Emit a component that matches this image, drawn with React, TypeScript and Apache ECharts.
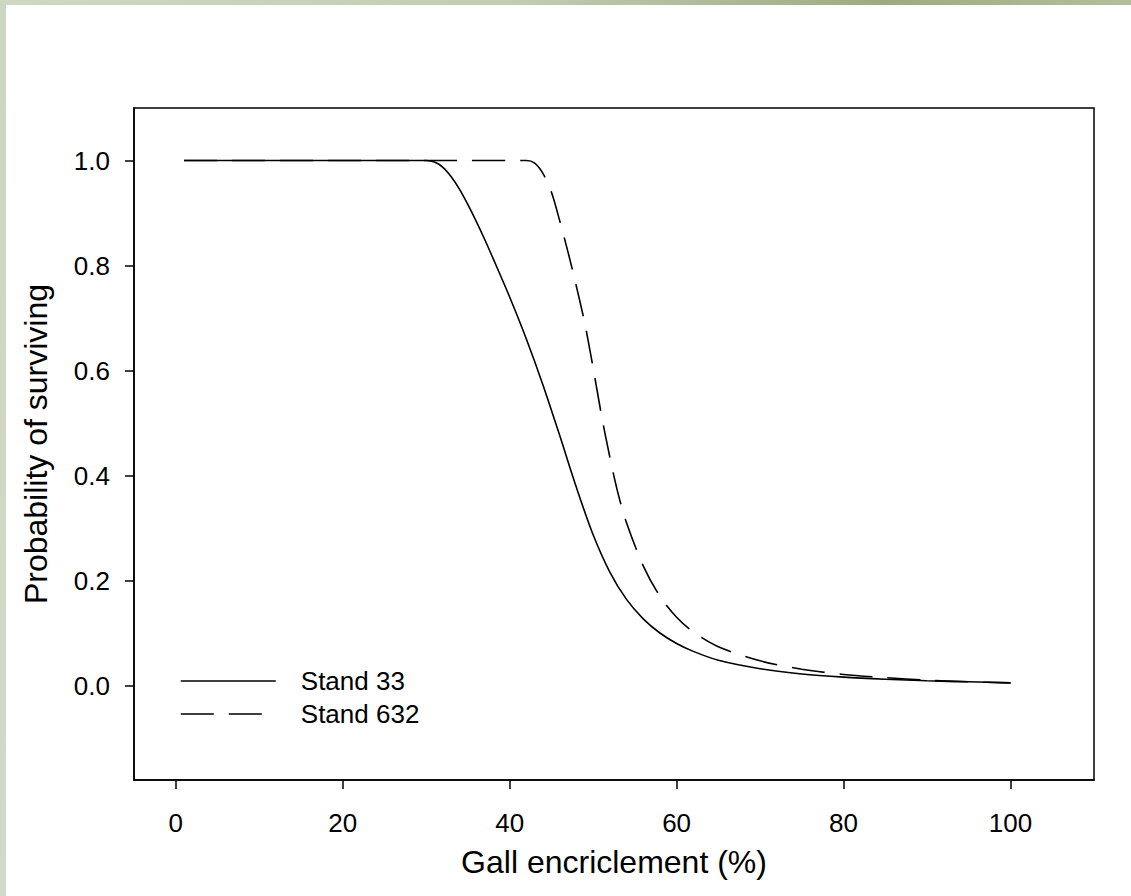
import React, { useEffect, useRef } from "react";
import * as echarts from "echarts";

const stand33X = [1, 5, 10, 15, 20, 25, 30, 31, 32, 33, 34, 35, 36, 37, 38, 40, 42, 44, 46, 48, 50, 52, 54, 56, 58, 60, 62, 65, 70, 75, 80, 85, 90, 95, 100];
const stand33Y = [1, 1, 1, 1, 1, 1, 1, 0.997, 0.987, 0.969, 0.945, 0.916, 0.884, 0.85, 0.814, 0.74, 0.66, 0.572, 0.476, 0.377, 0.287, 0.216, 0.164, 0.127, 0.1, 0.08, 0.065, 0.048, 0.032, 0.022, 0.016, 0.012, 0.009, 0.007, 0.005];

const stand632X = [1, 5, 10, 15, 20, 25, 30, 35, 40, 42, 43, 44, 45, 46, 47, 48, 49, 50, 51, 52, 53, 54, 56, 58, 60, 62, 65, 70, 75, 80, 85, 90, 95, 100];
const stand632Y = [1, 1, 1, 1, 1, 1, 1, 1, 1, 1, 0.995, 0.975, 0.94, 0.885, 0.825, 0.76, 0.69, 0.605, 0.515, 0.435, 0.365, 0.31, 0.228, 0.17, 0.13, 0.102, 0.074, 0.047, 0.031, 0.021, 0.015, 0.01, 0.007, 0.005];

const xTicks = [0, 20, 40, 60, 80, 100];
const yTicks = [0, 0.2, 0.4, 0.6, 0.8, 1.0];

const seriesNames = ["Stand 33", "Stand 632"];

export default function App() {
  const ref = useRef<HTMLDivElement>(null);
  useEffect(() => {
    document.body.style.margin = "0";
    const chart = echarts.init(ref.current!, null, { renderer: "svg" });
    const font = "Liberation Sans, Arial, sans-serif";
    chart.setOption({
      animation: false,
      backgroundColor: "#ffffff",
      graphic: [
        {
          type: "rect",
          shape: { x: 0, y: 0, width: 1131, height: 5 },
          style: {
            fill: new echarts.graphic.LinearGradient(0, 0, 1, 0, [
              { offset: 0, color: "#cfd8c3" },
              { offset: 0.45, color: "#c2cdb3" },
              { offset: 0.78, color: "#9dab83" },
              { offset: 1, color: "#b2bf9c" },
            ]),
          },
          silent: true,
        },
        {
          type: "rect",
          shape: { x: 0, y: 0, width: 6, height: 896 },
          style: {
            fill: new echarts.graphic.LinearGradient(0, 0, 0, 1, [
              { offset: 0, color: "#cdd6c0" },
              { offset: 1, color: "#d3d8c8" },
            ]),
          },
          silent: true,
        },
      ],
      grid: {
        left: 134,
        top: 108,
        right: 37,
        bottom: 116,
        show: true,
        borderColor: "#000",
        borderWidth: 1.5,
        backgroundColor: "transparent",
      },
      legend: {
        orient: "vertical",
        left: 180,
        top: 668,
        padding: 0,
        itemWidth: 95,
        itemHeight: 14,
        itemGap: 7,
        data: seriesNames,
        itemStyle: { color: "rgba(0,0,0,0)", borderColor: "rgba(0,0,0,0)", borderWidth: 0, opacity: 0 },
        lineStyle: { color: "#000", width: 1.6 },
        textStyle: {
          fontFamily: font,
          fontSize: 26,
          lineHeight: 26,
          color: "#000",
          padding: [0, 0, 0, 20],
        },
      },
      xAxis: {
        type: "value",
        min: -5,
        max: 110,
        name: "Gall encriclement (%)",
        nameLocation: "middle",
        nameGap: 66,
        nameTextStyle: { fontFamily: font, fontSize: 32, color: "#000" },
        axisLine: { show: true, onZero: false, lineStyle: { color: "#000", width: 1.5 } },
        axisTick: { show: true, inside: false, length: 9, customValues: xTicks, lineStyle: { color: "#000", width: 1.5 } },
        axisLabel: {
          customValues: xTicks,
          margin: 30,
          fontFamily: font,
          fontSize: 26,
          color: "#000",
        },
        splitLine: { show: false },
      },
      yAxis: {
        type: "value",
        min: -0.18,
        max: 1.1,
        name: "Probability of surviving",
        nameLocation: "middle",
        nameGap: 82,
        nameTextStyle: { fontFamily: font, fontSize: 32, color: "#000" },
        axisLine: { show: true, onZero: false, lineStyle: { color: "#000", width: 1.5 } },
        axisTick: { show: true, inside: false, length: 9, customValues: yTicks, lineStyle: { color: "#000", width: 1.5 } },
        axisLabel: {
          customValues: yTicks,
          margin: 24,
          fontFamily: font,
          fontSize: 26,
          color: "#000",
          formatter: (v: number) => v.toFixed(1),
        },
        splitLine: { show: false },
      },
      series: [
        {
          name: seriesNames[0],
          type: "line",
          data: stand33X.map((x, i) => [x, stand33Y[i]]),
          showSymbol: false,
          symbol: "none",
          smooth: 0.3,
          lineStyle: { color: "#000", width: 1.6, type: "solid" },
          itemStyle: { color: "#000" },
        },
        {
          name: seriesNames[1],
          type: "line",
          data: stand632X.map((x, i) => [x, stand632Y[i]]),
          showSymbol: false,
          symbol: "none",
          smooth: 0.3,
          lineStyle: { color: "#000", width: 1.6, type: [33, 15] },
          itemStyle: { color: "#000" },
        },
      ],
    });
    return () => chart.dispose();
  }, []);
  return <div ref={ref} style={{ width: 1131, height: 896 }} />;
}
